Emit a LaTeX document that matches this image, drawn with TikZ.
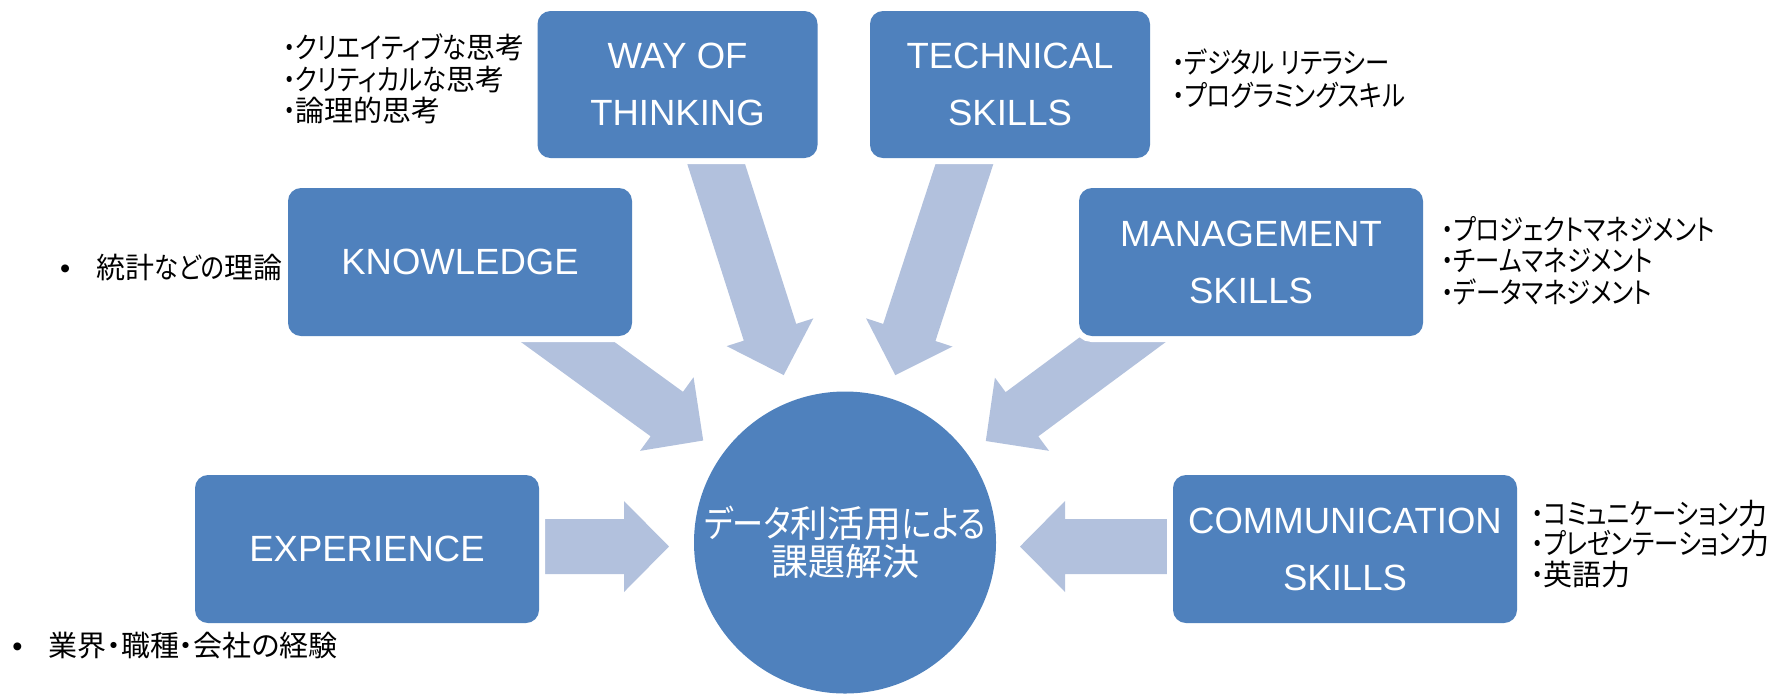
\documentclass[tikz,border=0pt]{standalone}
\usepackage{fontspec}
\setmainfont{Liberation Sans}
\newfontfamily\jp[RawFeature=+palt]{Noto Sans CJK JP}
\newfontfamily\jpkana[RawFeature=+palt, FakeStretch=0.84]{Noto Sans CJK JP}
\newcommand\kn[1]{{\jpkana #1}}
\usetikzlibrary{calc,backgrounds}
\definecolor{boxblue}{RGB}{79,129,189}
\definecolor{arrowblue}{RGB}{178,193,221}
\tikzset{
  skillbox/.style={rectangle, rounded corners=6.5pt, fill=boxblue, text=white,
    inner sep=0pt, align=center, font=\fontsize{18.25pt}{28.5pt}\selectfont,
    preaction={draw=white, line width=6pt}},
  topbox/.style={skillbox, minimum width=140pt, minimum height=73.5pt},
  sidebox/.style={skillbox, minimum width=172pt, minimum height=74pt},
  note/.style={anchor=west, inner sep=0pt, align=left,
    font=\jp\fontsize{14.5pt}{15.8pt}\selectfont},
  hub/.style={circle, fill=boxblue, text=white, inner sep=0pt, minimum size=151pt,
    align=center, font=\jp\fontsize{18.5pt}{19pt}\selectfont},
  flow/.style={fill=arrowblue}
}
% block arrow from start coordinate #1 to tip coordinate #2
\newcommand\blockarrow[2]{%
  \coordinate (#1h) at ($(#2)!22.5pt!(#1)$);
  \fill[flow] ($(#1)!13.75pt!90:(#2)$) -- ($(#1h)!13.75pt!90:(#2)$)
    -- ($(#1h)!22.75pt!90:(#2)$) -- (#2) -- ($(#1h)!22.75pt!-90:(#2)$)
    -- ($(#1h)!13.75pt!-90:(#2)$) -- ($(#1)!13.75pt!-90:(#2)$) -- cycle;}
\begin{document}
\begin{tikzpicture}[x=0.5pt,y=-0.5pt]
\useasboundingbox (0,0) rectangle (1771,693);
% boxes
\node[topbox] (way) at (677.5,84.5) {WAY OF\\THINKING};
\node[topbox] (tech) at (1010,84.5) {TECHNICAL\\SKILLS};
\node[sidebox] (know) at (460,262) {KNOWLEDGE};
\node[sidebox] (mgmt) at (1251,262) {MANAGEMENT\\SKILLS};
\node[sidebox] (exp) at (367,549) {EXPERIENCE};
\node[sidebox] (comm) at (1345,549) {COMMUNICATION\\SKILLS};
\node[hub] (hub) at (845,542.5) {\kn{データ}利活用\kn{による}\\課題解決};
% arrows
\begin{scope}[on background layer]
\coordinate (kS) at (509.9,300);   \coordinate (kT) at (703.2,440.5);
\coordinate (wS) at (704.4,127.3); \coordinate (wT) at (783.7,375.1);
\coordinate (tS) at (976.2,128);   \coordinate (tT) at (895.3,375.2);
\coordinate (mS) at (1177.9,298.8);\coordinate (mT) at (985.8,441);
\coordinate (eS) at (520,546.5);   \coordinate (eT) at (669,546.5);
\coordinate (cS) at (1190,546.5);  \coordinate (cT) at (1020,546.5);
\blockarrow{kS}{kT}
\blockarrow{wS}{wT}
\blockarrow{tS}{tT}
\blockarrow{mS}{mT}
\blockarrow{eS}{eT}
\blockarrow{cS}{cT}
\end{scope}
% notes
\node[note] (wayN) at (283,79) {\kn{・クリエイティブな}思考\\\kn{・クリティカルな}思考\\\kn{・}論理的思考};
\node[note, font=\jp\fontsize{14.5pt}{16.4pt}\selectfont] (techN) at (1172,79) {\kn{・デジタル リテラシー}\\\kn{・プログラミングスキル}};
\node[note] (mgmtN) at (1441,260.4) {\kn{・プロジェクトマネジメント}\\\kn{・チームマネジメント}\\\kn{・データマネジメント}};
\node[note, font=\jp\fontsize{14.5pt}{15.4pt}\selectfont] (commN) at (1531,544) {\kn{・コミュニケーション}力\\\kn{・プレゼンテーション}力\\\kn{・}英語力};
\node[note] (knowN) at (59.6,267.5) {\makebox[18.2pt][l]{\normalfont •}統計\kn{などの}理論};
\node[note] (expN) at (11.9,645.6) {\makebox[18.2pt][l]{\normalfont •}業界・職種・会社の経験};
\end{tikzpicture}
\end{document}
